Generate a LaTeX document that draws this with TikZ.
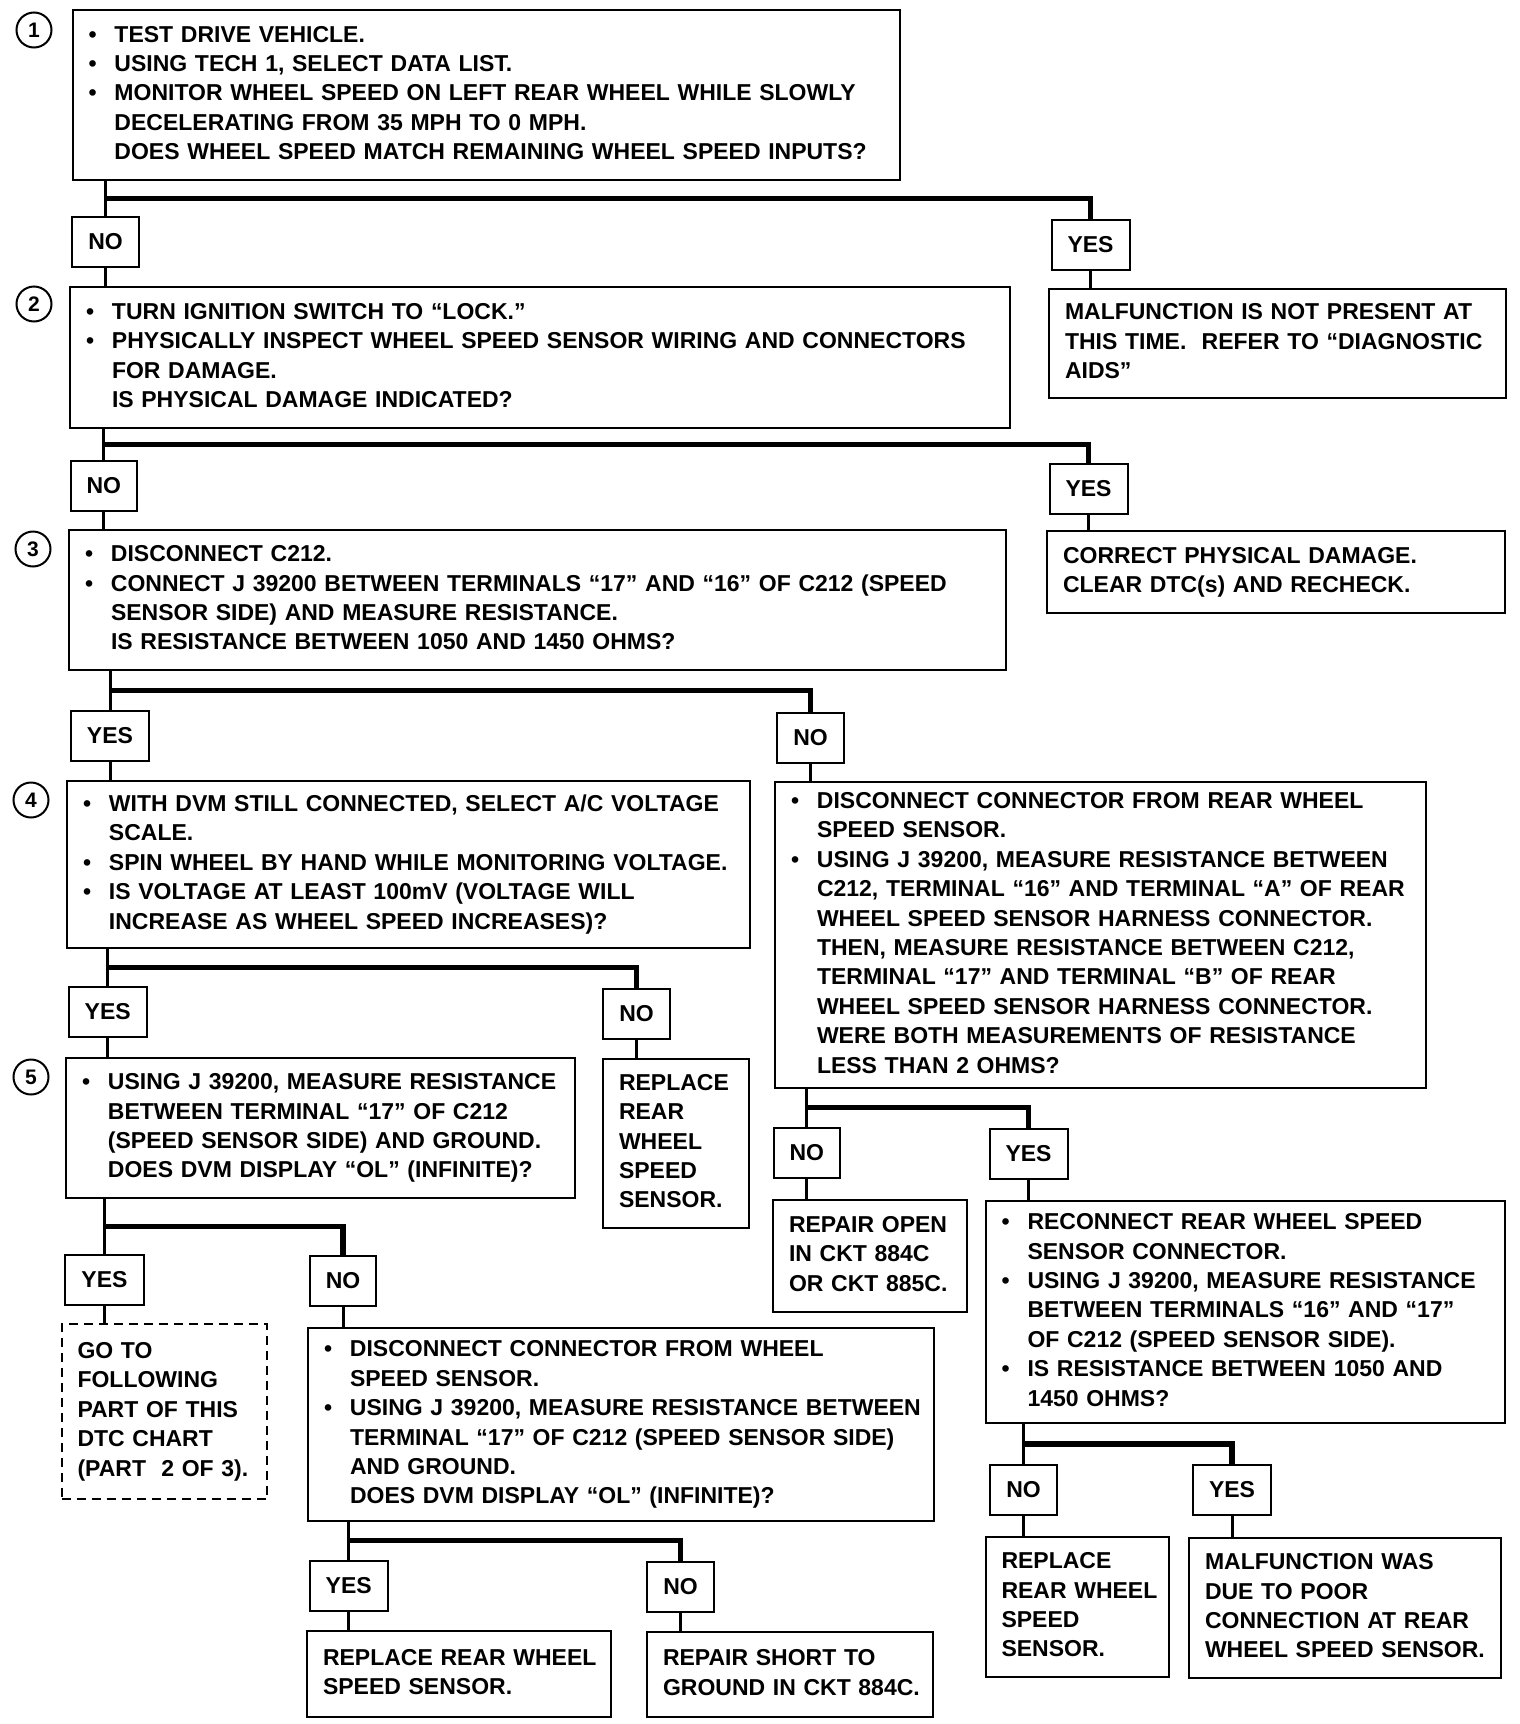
\documentclass[tikz,border=0pt]{standalone}
\usepackage{fontspec}
\setmainfont{Liberation Sans}
\usetikzlibrary{positioning, calc}

\newcommand{\boxfont}{\fontsize{11.5}{14.7}\selectfont\bfseries}

\begin{document}
\begin{tikzpicture}[
    x=0.5pt, y=-0.5pt,
    box/.style={draw, line width=1pt, anchor=north west, align=left, inner xsep=8pt, inner ysep=2pt, font=\boxfont},
    ans/.style={draw, line width=1pt, minimum height=25pt, inner xsep=8pt, font=\boxfont},
    goto/.style={box, dashed, dash pattern=on 4.5pt off 3pt},
    num/.style={draw, circle, line width=1pt, minimum size=17.5pt, inner sep=0pt, font=\fontsize{10.5}{11}\selectfont\bfseries},
    stem/.style={line width=1.5pt},
    bar/.style={line width=2.6pt}
]
\useasboundingbox (0,0) rectangle (1520,1724);

% Step 1
\node[num] (c1) at (34,30) {1};
\node[box, minimum width=413.75pt, minimum height=85pt, text width=397.75pt] (q1) at (71.5,9) {\begin{tabular}{@{}p{13pt}@{}l@{}}
\textbullet & TEST DRIVE VEHICLE.\\
\textbullet & USING TECH 1, SELECT DATA LIST.\\
\textbullet & MONITOR WHEEL SPEED ON LEFT REAR WHEEL WHILE SLOWLY\\
 & DECELERATING FROM 35 MPH TO 0 MPH.\\
 & DOES WHEEL SPEED MATCH REMAINING WHEEL SPEED INPUTS?
\end{tabular}};
\node[ans] (no1) at (105.6,242) {NO};
\node[ans] (yes1) at (1090.5,245) {YES};
\node[box, minimum width=228.5pt, minimum height=54.5pt, text width=212.5pt] (r1) at (1048,288) {\begin{tabular}{@{}l@{}}
MALFUNCTION IS NOT PRESENT AT\\
THIS TIME.\ \ REFER TO “DIAGNOSTIC\\
AIDS”
\end{tabular}};

% Step 2
\node[num] (c2) at (34,304) {2};
\node[box, minimum width=470pt, minimum height=70.5pt, text width=454pt] (q2) at (69,286) {\begin{tabular}{@{}p{13pt}@{}l@{}}
\textbullet & TURN IGNITION SWITCH TO “LOCK.”\\
\textbullet & PHYSICALLY INSPECT WHEEL SPEED SENSOR WIRING AND CONNECTORS\\
 & FOR DAMAGE.\\
 & IS PHYSICAL DAMAGE INDICATED?
\end{tabular}};
\node[ans] (no2) at (103.75,486) {NO};
\node[ans] (yes2) at (1088.5,488.5) {YES};
\node[box, minimum width=229pt, minimum height=41pt, text width=213pt] (r2) at (1046,530) {\begin{tabular}{@{}l@{}}
CORRECT PHYSICAL DAMAGE.\\
CLEAR DTC(s) AND RECHECK.
\end{tabular}};

% Step 3
\node[num] (c3) at (33,549) {3};
\node[box, minimum width=468.5pt, minimum height=70pt, text width=452.5pt] (q3) at (68,529) {\begin{tabular}{@{}p{13pt}@{}l@{}}
\textbullet & DISCONNECT C212.\\
\textbullet & CONNECT J 39200 BETWEEN TERMINALS “17” AND “16” OF C212 (SPEED\\
 & SENSOR SIDE) AND MEASURE RESISTANCE.\\
 & IS RESISTANCE BETWEEN 1050 AND 1450 OHMS?
\end{tabular}};
\node[ans] (yes3) at (110,735.5) {YES};
\node[ans] (no3) at (810.5,737.5) {NO};

% Step 4
\node[num] (c4) at (31,800) {4};
\node[box, minimum width=341.5pt, minimum height=83.5pt, text width=325.5pt] (q4) at (66,780) {\begin{tabular}{@{}p{13pt}@{}l@{}}
\textbullet & WITH DVM STILL CONNECTED, SELECT A/C VOLTAGE\\
 & SCALE.\\
\textbullet & SPIN WHEEL BY HAND WHILE MONITORING VOLTAGE.\\
\textbullet & IS VOLTAGE AT LEAST 100mV (VOLTAGE WILL\\
 & INCREASE AS WHEEL SPEED INCREASES)?
\end{tabular}};
\node[ans] (yes4) at (107.75,1012) {YES};
\node[ans] (no4) at (636.5,1014) {NO};
\node[box, minimum width=73pt, minimum height=84.25pt, text width=57pt] (r3) at (602,1058) {\begin{tabular}{@{}l@{}}
REPLACE\\ REAR\\ WHEEL\\ SPEED\\ SENSOR.
\end{tabular}};

% Open circuit check
\node[box, minimum width=325.5pt, minimum height=153pt, text width=309.5pt] (q6) at (774,781) {\begin{tabular}{@{}p{13pt}@{}l@{}}
\textbullet & DISCONNECT CONNECTOR FROM REAR WHEEL\\
 & SPEED SENSOR.\\
\textbullet & USING J 39200, MEASURE RESISTANCE BETWEEN\\
 & C212, TERMINAL “16” AND TERMINAL “A” OF REAR\\
 & WHEEL SPEED SENSOR HARNESS CONNECTOR.\\
 & THEN, MEASURE RESISTANCE BETWEEN C212,\\
 & TERMINAL “17” AND TERMINAL “B” OF REAR\\
 & WHEEL SPEED SENSOR HARNESS CONNECTOR.\\
 & WERE BOTH MEASUREMENTS OF RESISTANCE\\
 & LESS THAN 2 OHMS?
\end{tabular}};
\node[ans] (no6) at (806.75,1152.75) {NO};
\node[ans] (yes6) at (1028.5,1154) {YES};
\node[box, minimum width=97pt, minimum height=56pt, text width=81pt] (r4) at (772,1199) {\begin{tabular}{@{}l@{}}
REPAIR OPEN\\ IN CKT 884C\\ OR CKT 885C.
\end{tabular}};
\node[box, minimum width=259.75pt, minimum height=111pt, text width=243.75pt] (q7) at (984.5,1200) {\begin{tabular}{@{}p{13pt}@{}l@{}}
\textbullet & RECONNECT REAR WHEEL SPEED\\
 & SENSOR CONNECTOR.\\
\textbullet & USING J 39200, MEASURE RESISTANCE\\
 & BETWEEN TERMINALS “16” AND “17”\\
 & OF C212 (SPEED SENSOR SIDE).\\
\textbullet & IS RESISTANCE BETWEEN 1050 AND\\
 & 1450 OHMS?
\end{tabular}};
\node[ans] (no7) at (1023.5,1490) {NO};
\node[ans] (yes7) at (1232,1489.5) {YES};
\node[box, minimum width=91.75pt, minimum height=70pt, text width=75.75pt] (r8) at (984.5,1536) {\begin{tabular}{@{}l@{}}
REPLACE\\ REAR WHEEL\\ SPEED\\ SENSOR.
\end{tabular}};
\node[box, minimum width=156pt, minimum height=70pt, text width=140pt] (r9) at (1188,1537) {\begin{tabular}{@{}l@{}}
MALFUNCTION WAS\\ DUE TO POOR\\ CONNECTION AT REAR\\ WHEEL SPEED SENSOR.
\end{tabular}};

% Step 5
\node[num] (c5) at (31,1077) {5};
\node[box, minimum width=254.5pt, minimum height=70pt, text width=238.5pt] (q5) at (65,1057) {\begin{tabular}{@{}p{13pt}@{}l@{}}
\textbullet & USING J 39200, MEASURE RESISTANCE\\
 & BETWEEN TERMINAL “17” OF C212\\
 & (SPEED SENSOR SIDE) AND GROUND.\\
 & DOES DVM DISPLAY “OL” (INFINITE)?
\end{tabular}};
\node[ans] (yes5) at (104.5,1280) {YES};
\node[ans] (no5) at (343,1280.5) {NO};
\node[goto, minimum width=102.75pt, minimum height=87.5pt, text width=86.75pt] (r5) at (60.5,1323) {\begin{tabular}{@{}l@{}}
GO TO\\ FOLLOWING\\ PART OF THIS\\ DTC CHART\\ (PART\ \ 2 OF 3).
\end{tabular}};
\node[box, minimum width=313pt, minimum height=96.5pt, text width=297pt] (q8) at (307,1327) {\begin{tabular}{@{}p{13pt}@{}l@{}}
\textbullet & DISCONNECT CONNECTOR FROM WHEEL\\
 & SPEED SENSOR.\\
\textbullet & USING J 39200, MEASURE RESISTANCE BETWEEN\\
 & TERMINAL “17” OF C212 (SPEED SENSOR SIDE)\\
 & AND GROUND.\\
 & DOES DVM DISPLAY “OL” (INFINITE)?
\end{tabular}};
\node[ans] (yes8) at (348.75,1585.75) {YES};
\node[ans] (no8) at (680.5,1586.5) {NO};
\node[box, minimum width=152pt, minimum height=43pt, text width=136pt] (r6) at (306,1630) {\begin{tabular}{@{}l@{}}
REPLACE REAR WHEEL\\ SPEED SENSOR.
\end{tabular}};
\node[box, minimum width=143pt, minimum height=42.5pt, text width=127pt] (r7) at (646,1631) {\begin{tabular}{@{}l@{}}
REPAIR SHORT TO\\ GROUND IN CKT 884C.
\end{tabular}};

% Branches
\draw[stem] (q1.south -| no1) -- (no1.north);
\draw[bar] ($(q1.south -| no1)!.5!(no1.north)$) -| (yes1.north);
\draw[stem] (no1.south) -- (no1.south |- q2.north);
\draw[stem] (yes1.south) -- (yes1.south |- r1.north);

\draw[stem] (q2.south -| no2) -- (no2.north);
\draw[bar] ($(q2.south -| no2)!.5!(no2.north)$) -| (yes2.north);
\draw[stem] (no2.south) -- (no2.south |- q3.north);
\draw[stem] (yes2.south) -- (yes2.south |- r2.north);

\draw[stem] (q3.south -| yes3) -- (yes3.north);
\draw[bar] ($(q3.south -| yes3)!.5!(yes3.north)$) -| (no3.north);
\draw[stem] (yes3.south) -- (yes3.south |- q4.north);
\draw[stem] (no3.south) -- (no3.south |- q6.north);

\draw[stem] (q4.south -| yes4) -- (yes4.north);
\draw[bar] ($(q4.south -| yes4)!.5!(yes4.north)$) -| (no4.north);
\draw[stem] (yes4.south) -- (yes4.south |- q5.north);
\draw[stem] (no4.south) -- (no4.south |- r3.north);

\draw[stem] (q6.south -| no6) -- (no6.north);
\draw[bar] ($(q6.south -| no6)!.5!(no6.north)$) -| (yes6.north);
\draw[stem] (no6.south) -- (no6.south |- r4.north);
\draw[stem] (yes6.south) -- (yes6.south |- q7.north);

\draw[stem] (q7.south -| no7) -- (no7.north);
\draw[bar] ($(q7.south -| no7)!.5!(no7.north)$) -| (yes7.north);
\draw[stem] (no7.south) -- (no7.south |- r8.north);
\draw[stem] (yes7.south) -- (yes7.south |- r9.north);

\draw[stem] (q5.south -| yes5) -- (yes5.north);
\draw[bar] ($(q5.south -| yes5)!.5!(yes5.north)$) -| (no5.north);
\draw[stem] (yes5.south) -- (yes5.south |- r5.north);
\draw[stem] (no5.south) -- (no5.south |- q8.north);

\draw[stem] (q8.south -| yes8) -- (yes8.north);
\draw[bar] ($(q8.south -| yes8)!.5!(yes8.north)$) -| (no8.north);
\draw[stem] (yes8.south) -- (yes8.south |- r6.north);
\draw[stem] (no8.south) -- (no8.south |- r7.north);

\end{tikzpicture}
\end{document}
